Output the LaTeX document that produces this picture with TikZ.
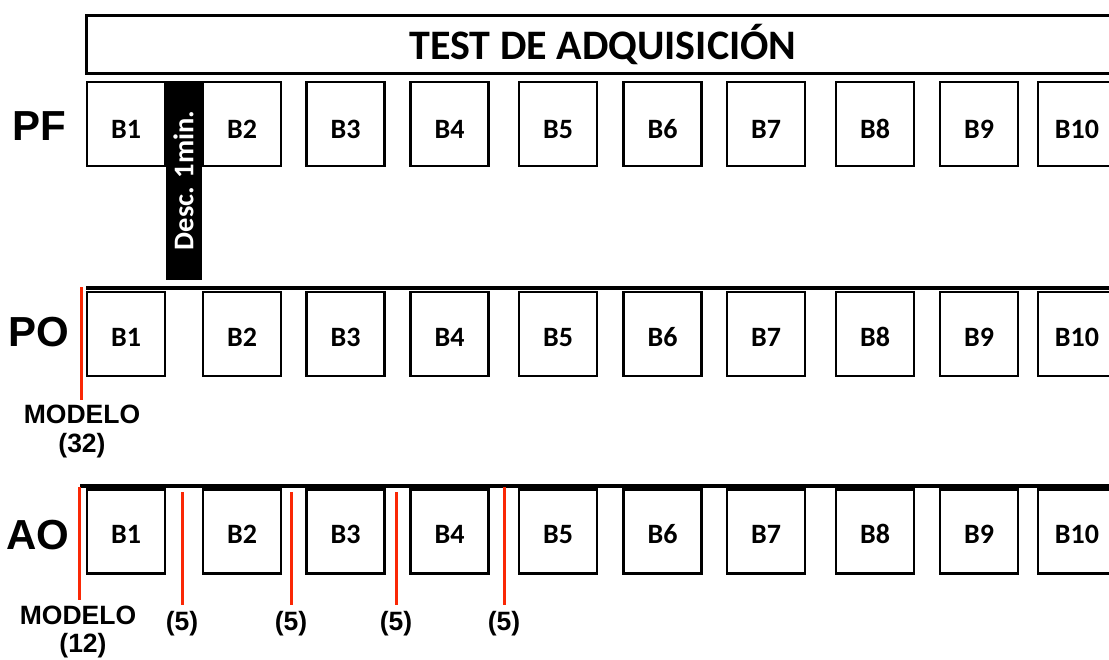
\documentclass[tikz,border=0pt]{standalone}
\usepackage{fontspec}
\setmainfont{Carlito}
\newfontfamily\arialf{Liberation Sans}
\definecolor{redline}{RGB}{250,40,5}
\begin{document}
\begin{tikzpicture}[x=1pt,y=-1pt,
  blk/.style={draw, line width=2.5pt, minimum width=78pt, minimum height=84pt, inner sep=0pt},
  btxt/.style={inner sep=0pt, anchor=base, font=\fontsize{28}{32}\selectfont\bfseries},
  rowlbl/.style={font=\arialf\bfseries\fontsize{42}{46}\selectfont, inner sep=0pt},
  smalllbl/.style={font=\arialf\bfseries\fontsize{26.5}{30}\selectfont, inner sep=0pt},
  topline/.style={line width=3.5pt},
  redmark/.style={draw=redline, line width=3pt}]
\useasboundingbox (0,0) rectangle (1109,659);
\clip (0,0) rectangle (1109,659);

% title
\node[draw, line width=3pt, minimum width=1034pt, minimum height=58pt, inner sep=0pt,
  font=\fontsize{42}{46}\selectfont\bfseries] (title) at (603,44.5) {TEST DE ADQUISICIÓN};

% row labels
\node[rowlbl] (pf) at (39.5,126.5) {PF};
\node[rowlbl] (po) at (38.5,332.5) {PO};
\node[rowlbl] (ao) at (38,535) {AO};

% PF row
\foreach \i/\x in {1/126,2/242,3/345.5,4/449.5,5/558,6/662.5,7/766,8/875,9/979,10/1077}{
  \node[blk] (pf\i) at (\x,124) {};
  \node[btxt] (pft\i) at ([yshift=-14pt]pf\i.center) {B\i};
}
% rest break
\node[fill=black, rotate=90, minimum width=199pt, minimum height=36pt, inner sep=0pt,
  text=white, font=\fontsize{28.5}{32}\selectfont\bfseries] (desc) at (183.5,180.5) {Desc. 1min.};

% PO row
\coordinate (polineL) at (86,288);
\coordinate (polineR) at (1109,288);
\draw[topline] (polineL) -- (polineR);
\foreach \i/\x in {1/126,2/242,3/345.5,4/449.5,5/558,6/662.5,7/766,8/875,9/979,10/1077}{
  \node[blk] (po\i) at (\x,334) {};
  \node[btxt] (pot\i) at ([yshift=-12pt]po\i.center) {B\i};
}
\coordinate (pomT) at (81,287);
\coordinate (pomB) at (81,400);
\draw[redmark] (pomT) -- (pomB);
\node[smalllbl] (pomodelo) at (82,414) {MODELO};
\node[smalllbl] (po32) at (82,446) {(32)};

% AO row
\coordinate (aolineL) at (80,486);
\coordinate (aolineR) at (1109,486);
\draw[topline] (aolineL) -- (aolineR);
\foreach \i/\x in {1/126,2/242,3/345.5,4/449.5,5/558,6/662.5,7/766,8/875,9/979,10/1077}{
  \node[blk] (ao\i) at (\x,531.5) {};
  \node[btxt] (aot\i) at ([yshift=-12pt]ao\i.center) {B\i};
}
\coordinate (aomT) at (79,487);
\coordinate (aomB) at (79,600);
\draw[redmark] (aomT) -- (aomB);
\node[smalllbl] (aomodelo) at (78,615) {MODELO};
\node[smalllbl] (ao12) at (83,646) {(12)};
\foreach \n/\x/\t in {1/182/492,2/291/492,3/396/492,4/504/487}{
  \coordinate (rT\n) at (\x,\t);
  \coordinate (rB\n) at (\x,605);
  \draw[redmark] (rT\n) -- (rB\n);
  \node[smalllbl] (five\n) at (\x,624) {(5)};
}
\end{tikzpicture}
\end{document}
